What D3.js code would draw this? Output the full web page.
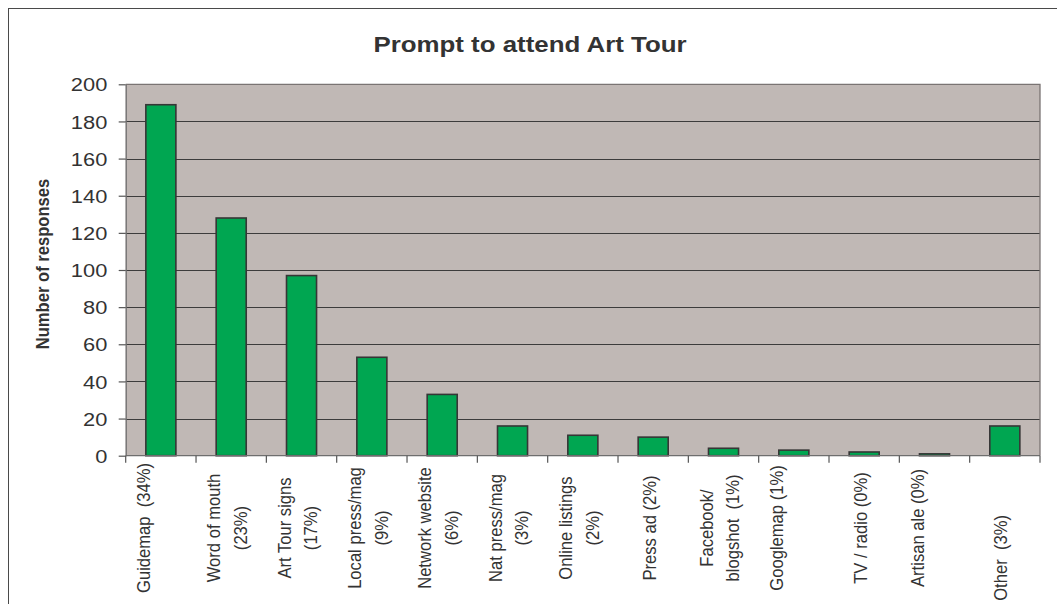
<!DOCTYPE html>
<html>
<head>
<meta charset="utf-8">
<script src="https://cdn.jsdelivr.net/npm/d3@7/dist/d3.min.js"></script>
<style>
  html, body { margin: 0; padding: 0; background: #fff; }
  svg { display: block; font-family: "Liberation Sans", Arial, sans-serif; }
  text { white-space: pre; }
</style>
</head>
<body>
<svg id="chart" width="1057" height="604"></svg>
<script>
// Survey answers: what prompted people to attend the Art Tour
const categories = [
  "Guidemap", "Word of mouth", "Art Tour signs", "Local press/mag",
  "Network website", "Nat press/mag", "Online listings", "Press ad",
  "Facebook/blogshot", "Googlemap", "TV / radio", "Artisan ale", "Other"
];
const responses = [189, 128, 97, 53, 33, 16, 11, 10, 4, 3, 2, 1, 16];
// Axis labels as printed under each bar (line breaks as in the sheet)
const categoryLabels = [
  "Guidemap  (34%)\n",
  "Word of mouth\n(23%)",
  "Art Tour signs\n(17%)",
  "Local press/mag\n(9%)",
  "Network website\n(6%)",
  "Nat press/mag\n(3%)",
  "Online listings\n(2%)",
  "Press ad (2%)",
  "Facebook/\nblogshot  (1%)",
  "Googlemap (1%)\n",
  "TV / radio (0%)",
  "Artisan ale (0%)\n",
  "Other  (3%)             "
];
const yTicks = [0, 20, 40, 60, 80, 100, 120, 140, 160, 180, 200];
const chartTitle = "Prompt to attend Art Tour";
const yTitle = "Number of responses";

const svg = d3.select("#chart");
const plot = { left: 125.7, right: 1040, top: 84.3, bottom: 455.7 };
const SX = 1.15; // horizontal stretch of the lettering

// outer chart frame
svg.append("rect")
  .attr("x", 8.5).attr("y", 8.5)
  .attr("width", 1100).attr("height", 700)
  .attr("fill", "#fff").attr("stroke", "#4a4a4a").attr("stroke-width", 1);

const x = d3.scaleBand()
  .domain(categories)
  .range([plot.left, plot.right])
  .paddingInner(0.573)
  .paddingOuter(0.573 / 2);

const y = d3.scaleLinear()
  .domain([0, 200])
  .range([plot.bottom, plot.top]);

// plot area
svg.append("rect")
  .attr("x", plot.left).attr("y", plot.top)
  .attr("width", plot.right - plot.left).attr("height", plot.bottom - plot.top)
  .attr("fill", "#c0b8b5");

// gridlines
svg.append("g")
  .selectAll("line")
  .data(yTicks.filter(t => t > 0 && t < 200))
  .join("line")
  .attr("x1", plot.left).attr("x2", plot.right)
  .attr("y1", d => Math.round(y(d)) + 0.5).attr("y2", d => Math.round(y(d)) + 0.5)
  .attr("stroke", "#3c3c3c").attr("stroke-width", 1.2);

// plot border (top and right)
svg.append("path")
  .attr("d", `M${plot.left},${plot.top}H${plot.right}V${plot.bottom}`)
  .attr("fill", "none").attr("stroke", "#7a7473").attr("stroke-width", 1.3);

// bars
svg.append("g")
  .selectAll("rect")
  .data(categories.map((c, i) => ({ c, v: responses[i] })))
  .join("rect")
  .attr("x", d => x(d.c))
  .attr("y", d => y(d.v))
  .attr("width", x.bandwidth())
  .attr("height", d => y(0) - y(d.v))
  .attr("fill", "#00a651")
  .attr("stroke", "#363636")
  .attr("stroke-width", 1.6);

// y axis
const yAxis = svg.append("g")
  .attr("transform", `translate(${plot.left},0)`)
  .call(d3.axisLeft(y).tickValues(yTicks).tickSize(7).tickSizeOuter(0).tickFormat(d3.format("d")));
yAxis.select(".domain").attr("stroke", "#6e6e6e").attr("stroke-width", 1.3);
yAxis.selectAll(".tick line").attr("stroke", "#555").attr("stroke-width", 1.2);
yAxis.selectAll(".tick text")
  .attr("x", 0).attr("dy", "0.35em")
  .attr("transform", `translate(-18.4,0) scale(${SX},1)`)
  .attr("fill", "#333")
  .attr("font-size", 19)
  .attr("font-family", "Liberation Sans, Arial, sans-serif");

// x axis line and ticks between categories
const step = x.step();
const bounds = d3.range(categories.length + 1).map(i => plot.left + i * step);
svg.append("line")
  .attr("x1", plot.left).attr("x2", plot.right)
  .attr("y1", plot.bottom).attr("y2", plot.bottom)
  .attr("stroke", "#6e6e6e").attr("stroke-width", 1.3);
svg.append("g")
  .selectAll("line")
  .data(bounds)
  .join("line")
  .attr("x1", d => d).attr("x2", d => d)
  .attr("y1", plot.bottom).attr("y2", plot.bottom + 7)
  .attr("stroke", "#555").attr("stroke-width", 1.2);

// rotated category labels
const lineGap = 26.5;
const labelY = 528;
categories.forEach((c, i) => {
  const lines = categoryLabels[i].split("\n");
  const cx = x(c) + x.bandwidth() / 2;
  lines.forEach((ln, j) => {
    if (!ln.length) return;
    const off = 2.5 + (j - (lines.length - 1) / 2) * lineGap;
    svg.append("text")
      .attr("transform", `translate(${cx + off},${labelY}) scale(${SX},1) rotate(-90)`)
      .attr("text-anchor", "middle")
      .attr("font-size", 16.6)
      .attr("fill", "#333")
      .text(ln);
  });
});

// y axis title
svg.append("text")
  .attr("transform", `translate(48.7,264) scale(${SX},1) rotate(-90)`)
  .attr("text-anchor", "middle")
  .attr("font-size", 16.6)
  .attr("font-weight", "bold")
  .attr("fill", "#333")
  .text(yTitle);

// chart title
svg.append("text")
  .attr("transform", `translate(530,52) scale(${SX},1)`)
  .attr("text-anchor", "middle")
  .attr("font-size", 22.5)
  .attr("font-weight", "bold")
  .attr("fill", "#333")
  .text(chartTitle);
</script>
</body>
</html>
